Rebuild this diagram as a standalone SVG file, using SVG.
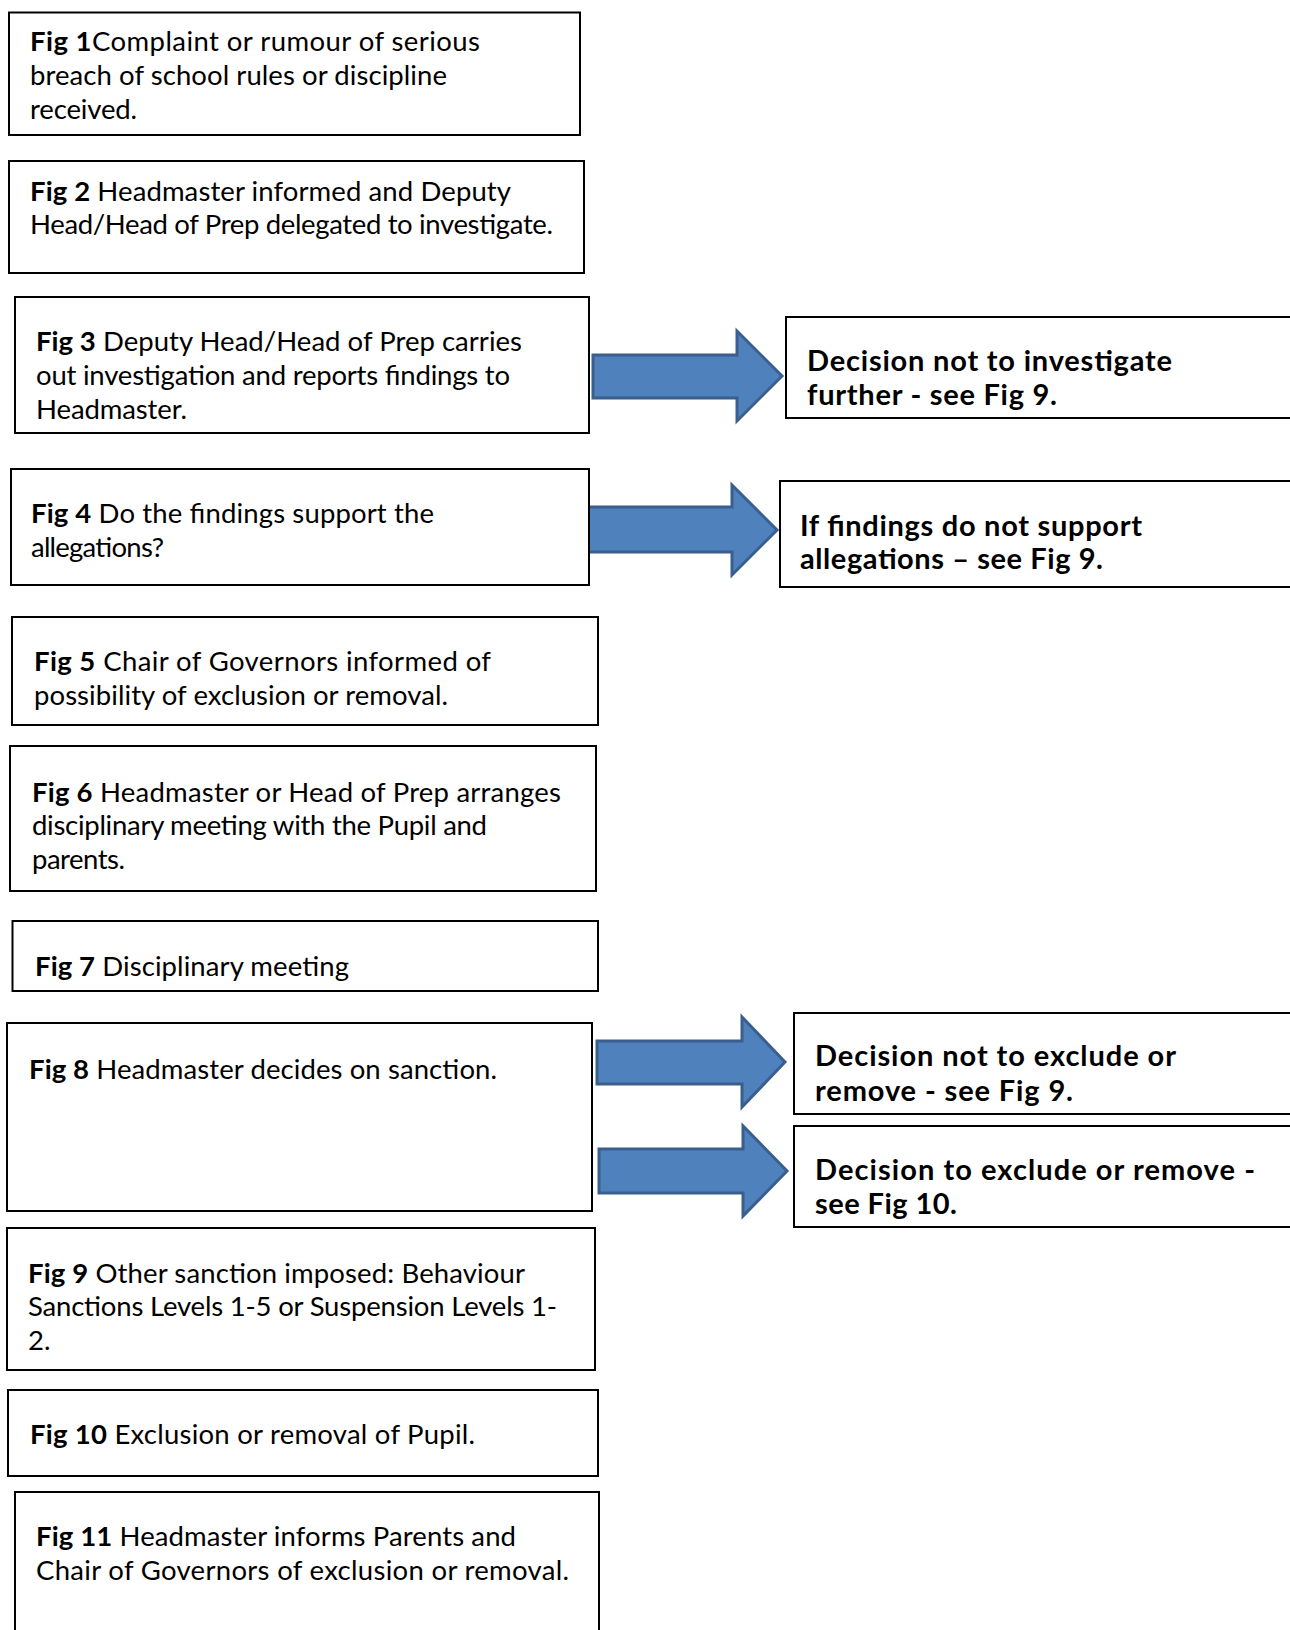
<svg xmlns="http://www.w3.org/2000/svg" width="1290" height="1630" viewBox="0 0 1290 1630">
<style>
.box{fill:#fff;stroke:#000;stroke-width:2}
.t{font-family:Lato,"Open Sans",sans-serif;font-size:27.5px;fill:#000}
.b{font-weight:bold}
.rt{font-family:Lato,"Open Sans",sans-serif;font-size:29px;font-weight:bold;fill:#000}
.arr{fill:#4F81BD;stroke:#3A5F8E;stroke-width:3;stroke-linejoin:miter}
</style>
<rect width="1290" height="1630" fill="#fff"/>
<g id="connectors">
<path class="arr" d="M593,355 H737 V331 L782,376 L737,421 V398 H593 Z"/>
<path class="arr" d="M587,507 H732 V485 L777,530 L732,575 V552 H587 Z"/>
<path class="arr" d="M597,1041 H742 V1017 L785,1062 L742,1107 V1084 H597 Z"/>
<path class="arr" d="M599,1149 H743 V1126 L787,1171 L743,1216 V1193 H599 Z"/>
</g>
<g id="fig1"><rect class="box" x="9" y="12.5" width="571" height="122.5"/>
<text class="t" x="30" y="51" textLength="450" lengthAdjust="spacing"><tspan class="b">Fig 1</tspan>Complaint or rumour of serious</text>
<text class="t" x="30" y="85" textLength="417" lengthAdjust="spacing">breach of school rules or discipline</text>
<text class="t" x="30" y="119" textLength="107" lengthAdjust="spacing">received.</text></g>
<g id="fig2"><rect class="box" x="9" y="161" width="575" height="112"/>
<text class="t" x="30" y="200.5" textLength="481" lengthAdjust="spacing"><tspan class="b">Fig 2</tspan> Headmaster informed and Deputy</text>
<text class="t" x="30" y="234" textLength="523" lengthAdjust="spacing">Head/Head of Prep delegated to investigate.</text></g>
<g id="fig3"><rect class="box" x="15" y="297" width="574" height="136"/>
<text class="t" x="36" y="351" textLength="486" lengthAdjust="spacing"><tspan class="b">Fig 3</tspan> Deputy Head/Head of Prep carries</text>
<text class="t" x="36" y="385" textLength="474" lengthAdjust="spacing">out investigation and reports findings to</text>
<text class="t" x="36" y="419" textLength="151" lengthAdjust="spacing">Headmaster.</text></g>
<g id="fig4"><rect class="box" x="11" y="469" width="578" height="116"/>
<text class="t" x="31" y="523" textLength="403" lengthAdjust="spacing"><tspan class="b">Fig 4</tspan> Do the findings support the</text>
<text class="t" x="31" y="557" textLength="133" lengthAdjust="spacing">allegations?</text></g>
<g id="fig5"><rect class="box" x="12" y="617" width="586" height="108"/>
<text class="t" x="34" y="670.5" textLength="457" lengthAdjust="spacing"><tspan class="b">Fig 5</tspan> Chair of Governors informed of</text>
<text class="t" x="34" y="705" textLength="414" lengthAdjust="spacing">possibility of exclusion or removal.</text></g>
<g id="fig6"><rect class="box" x="10" y="746" width="586" height="145"/>
<text class="t" x="32" y="801.5" textLength="529" lengthAdjust="spacing"><tspan class="b">Fig 6</tspan> Headmaster or Head of Prep arranges</text>
<text class="t" x="32" y="835" textLength="455" lengthAdjust="spacing">disciplinary meeting with the Pupil and</text>
<text class="t" x="32" y="869" textLength="93" lengthAdjust="spacing">parents.</text></g>
<g id="fig7"><rect class="box" x="12.5" y="921" width="585.5" height="70"/>
<text class="t" x="35" y="976" textLength="314" lengthAdjust="spacing"><tspan class="b">Fig 7</tspan> Disciplinary meeting</text></g>
<g id="fig8"><rect class="box" x="7" y="1023" width="585" height="188"/>
<text class="t" x="29" y="1079" textLength="468" lengthAdjust="spacing"><tspan class="b">Fig 8</tspan> Headmaster decides on sanction.</text></g>
<g id="fig9"><rect class="box" x="7" y="1228" width="588" height="142"/>
<text class="t" x="28" y="1283" textLength="497" lengthAdjust="spacing"><tspan class="b">Fig 9</tspan> Other sanction imposed: Behaviour</text>
<text class="t" x="28" y="1316" textLength="529" lengthAdjust="spacing">Sanctions Levels 1-5 or Suspension Levels 1-</text>
<text class="t" x="28" y="1350">2.</text></g>
<g id="fig10"><rect class="box" x="8" y="1390" width="590" height="86"/>
<text class="t" x="30" y="1444" textLength="445" lengthAdjust="spacing"><tspan class="b">Fig 10</tspan> Exclusion or removal of Pupil.</text></g>
<g id="fig11"><rect class="box" x="15" y="1492" width="584" height="150"/>
<text class="t" x="36" y="1546" textLength="480" lengthAdjust="spacing"><tspan class="b">Fig 11</tspan> Headmaster informs Parents and</text>
<text class="t" x="36" y="1580" textLength="533" lengthAdjust="spacing">Chair of Governors of exclusion or removal.</text></g>
<g id="r1"><rect class="box" x="786" y="317" width="520" height="101"/>
<text class="rt" x="807" y="371" textLength="365" lengthAdjust="spacing">Decision not to investigate</text>
<text class="rt" x="807" y="405" textLength="250" lengthAdjust="spacing">further - see Fig 9.</text></g>
<g id="r2"><rect class="box" x="780" y="481" width="526" height="106"/>
<text class="rt" x="800" y="536" textLength="342" lengthAdjust="spacing">If findings do not support</text>
<text class="rt" x="800" y="569" textLength="303" lengthAdjust="spacing">allegations – see Fig 9.</text></g>
<g id="r3"><rect class="box" x="794" y="1013" width="512" height="101"/>
<text class="rt" x="815" y="1066" textLength="361" lengthAdjust="spacing">Decision not to exclude or</text>
<text class="rt" x="815" y="1101" textLength="258" lengthAdjust="spacing">remove - see Fig 9.</text></g>
<g id="r4"><rect class="box" x="794" y="1126" width="512" height="101"/>
<text class="rt" x="815" y="1180" textLength="440" lengthAdjust="spacing">Decision to exclude or remove -</text>
<text class="rt" x="815" y="1214" textLength="142" lengthAdjust="spacing">see Fig 10.</text></g>
</svg>
